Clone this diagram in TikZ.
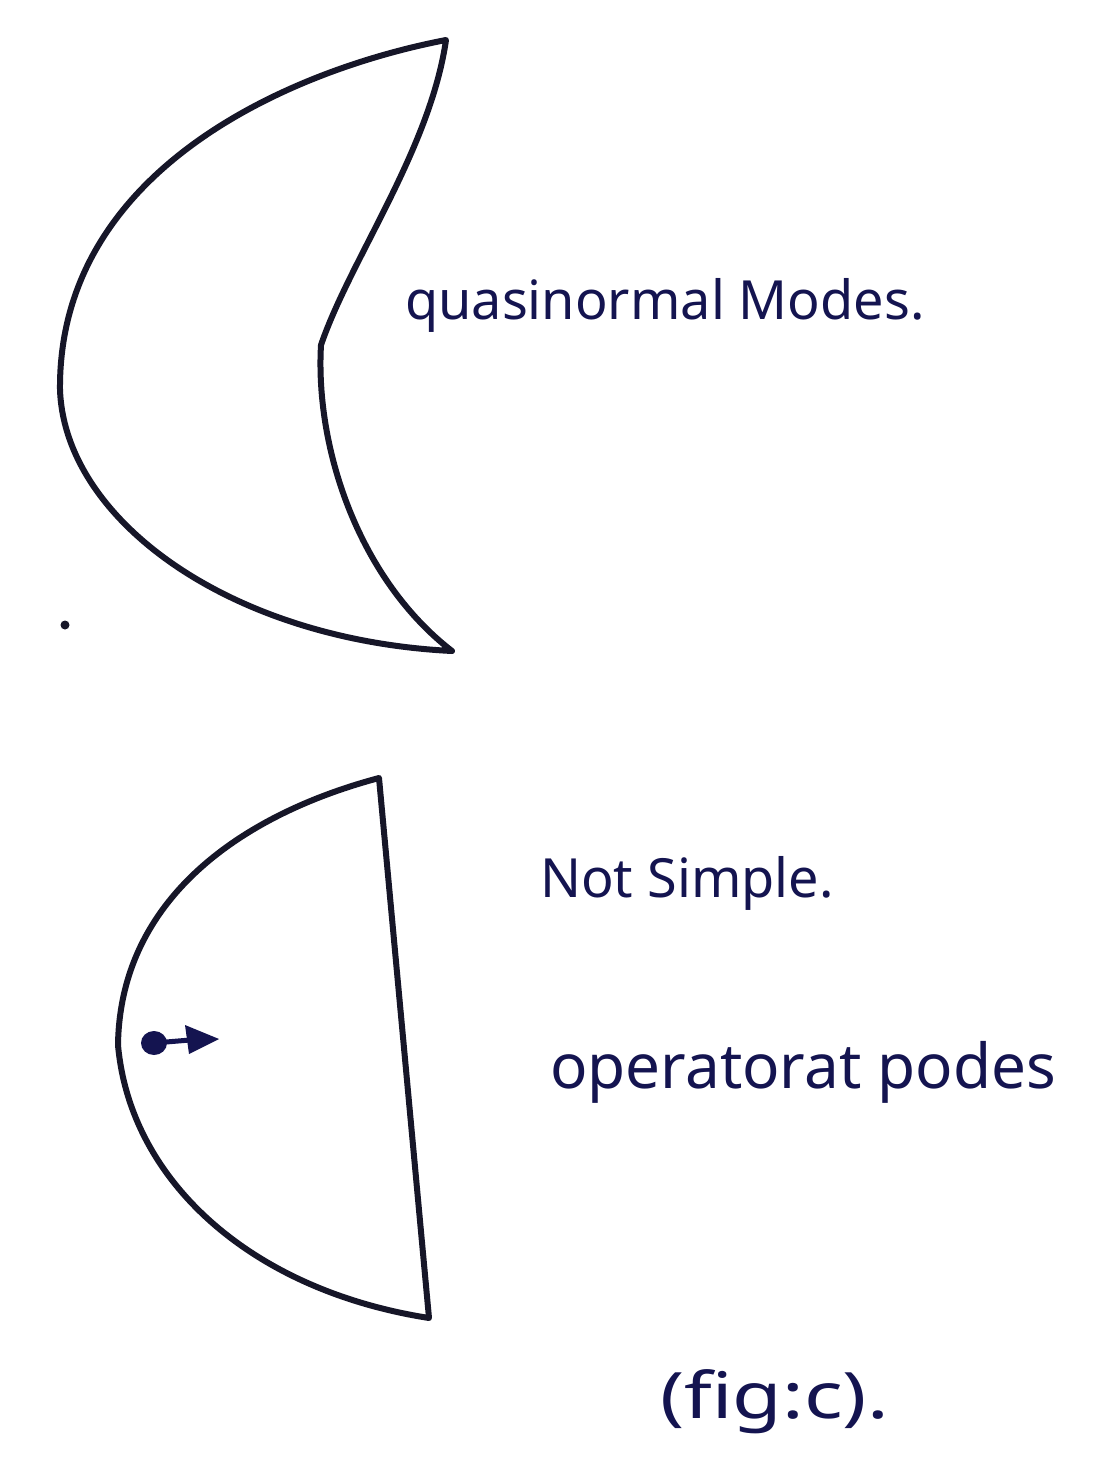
\documentclass[tikz,border=0pt]{standalone}
\usepackage{fontspec}
\setmainfont{Noto Sans}
\definecolor{ink}{RGB}{22,22,40}
\definecolor{pen}{RGB}{20,20,80}
\begin{document}
\begin{tikzpicture}[x=1pt,y=-1pt,
  outline/.style={draw=ink,line width=6pt,line join=round,line cap=round},
  hand/.style={text=pen,inner sep=0pt,anchor=west,font=\fontsize{54}{60}\selectfont}]
\useasboundingbox[fill=white] (0,0) rectangle (1094,1461);
% crescent
\coordinate (ct) at (446,40);
\coordinate (cl) at (60,390);
\coordinate (cb) at (452,651);
\coordinate (ck) at (321,345);
\draw[outline] (ct) .. controls (290,70) and (58,170) .. (cl)
  .. controls (65,520) and (230,640) .. (cb)
  .. controls (360,580) and (315,450) .. (ck)
  .. controls (350,260) and (430,150) .. (ct) -- cycle;
% half disc
\coordinate (ht) at (379,778);
\coordinate (hl) at (118,1045);
\coordinate (hb) at (429,1318);
\draw[outline] (ht) .. controls (240,815) and (120,900) .. (hl)
  .. controls (130,1180) and (250,1290) .. (hb)
  -- (ht) -- cycle;
% dot with arrow
\coordinate (dot) at (154,1043);
\coordinate (tip) at (219,1039);
\fill[pen] (dot) ellipse (13 and 12);
\draw[pen,line width=5pt] (dot) -- (190,1040);
\fill[pen] (185,1025) -- (tip) -- (189,1054) -- cycle;
% stray dot
\fill[ink] (65,625) circle (4.5);
% labels
\node[hand] (qnm) at (405,305) {quasinormal Modes.};
\node[hand] (ns) at (540,883) {Not Simple.};
\node[hand,font=\fontsize{62}{68}\selectfont] (op) at (550,1072) {operatorat podes};
\node[hand,font=\fontsize{64}{70}\selectfont] (fig) at (660,1402) {\scalebox{1.26}[1]{(fig:c).}};
\end{tikzpicture}
\end{document}
